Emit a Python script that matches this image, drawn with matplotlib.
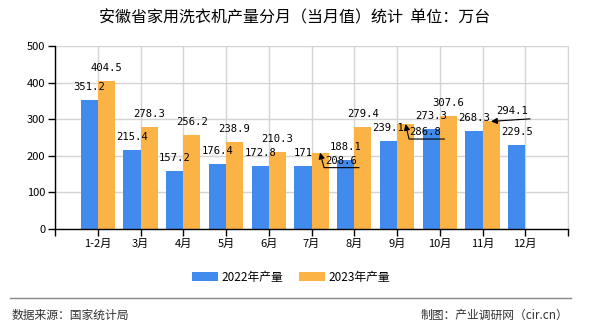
import matplotlib

matplotlib.use("Agg")
import matplotlib.pyplot as plt
import numpy as np

plt.rcParams["font.family"] = ["Noto Sans CJK SC", "DejaVu Sans"]

# data (unit: 万台)
months = ["1-2月", "3月", "4月", "5月", "6月", "7月", "8月", "9月", "10月", "11月", "12月"]
output_2022 = [351.2, 215.4, 157.2, 176.4, 172.8, 171.0, 188.1, 239.1, 273.3, 268.3, 229.5]
output_2023 = [404.5, 278.3, 256.2, 238.9, 210.3, 208.6, 279.4, 286.8, 307.6, 294.1, None]
labels_2022 = ["351.2", "215.4", "157.2", "176.4", "172.8", "171", "188.1", "239.1", "273.3", "268.3", "229.5"]
labels_2023 = ["404.5", "278.3", "256.2", "238.9", "210.3", "208.6", "279.4", "286.8", "307.6", "294.1", ""]

# 2023 labels pushed aside with a leader: text offset, underline left/right x, underline y (pixels)
moved_2023 = {
    5: ((21, -8), 4, 39, -15),
    7: ((20, -8), 3.5, 39, -15),
    9: ((21, 10), 0.5, 39, 2.5),
}

BLUE = "#418BEE"
ORANGE = "#FCB346"
W = 0.4

fig = plt.figure(figsize=(5.9, 3.3), dpi=100)
ax = fig.add_axes([55 / 590, (330 - 229) / 330, (568 - 55) / 590, (229 - 46) / 330])

x = np.arange(len(months))
vals_2023 = np.array([np.nan if v is None else v for v in output_2023])
bars_a = ax.bar(x - W / 2, output_2022, W, color=BLUE, label="2022年产量", zorder=2)
bars_b = ax.bar(x + W / 2, np.nan_to_num(vals_2023), W, color=ORANGE, label="2023年产量", zorder=2)

num_font = dict(family="DejaVu Sans Mono", fontsize=7.6, color="black")
for xi, v, lab in zip(x, output_2022, labels_2022):
    ax.annotate(lab, (xi - W / 2, v), xytext=(0, 13), textcoords="offset pixels",
                ha="center", va="center", zorder=4, **num_font)

for i, (xi, v, lab) in enumerate(zip(x, vals_2023, labels_2023)):
    if not lab:
        continue
    if i not in moved_2023:
        ax.annotate(lab, (xi + W / 2, v), xytext=(0, 13), textcoords="offset pixels",
                    ha="center", va="center", zorder=4, **num_font)
        continue
    (tx, ty), left, right, line_y = moved_2023[i]
    ax.annotate(lab, (xi + W / 2, v), xytext=(tx, ty), textcoords="offset pixels",
                ha="center", va="center", zorder=4, **num_font)
    if abs(line_y) > 5:
        angle_b = np.degrees(np.arctan2(line_y, left))
        cstyle = f"angle,angleA=0,angleB={angle_b:.1f},rad=0"
    else:
        cstyle = "arc3"
    ax.annotate("", (xi + W / 2, v), xytext=(right, line_y), textcoords="offset pixels",
                zorder=4,
                arrowprops=dict(arrowstyle="-|>", color="black", lw=0.8,
                                mutation_scale=9, shrinkA=0, shrinkB=0,
                                connectionstyle=cstyle))

ax.set_xlim(-1, 11)
ax.set_ylim(0, 500)
ax.set_xticks(np.arange(-1, 12))
ax.set_xticklabels([""] + months + [""], fontsize=8)
ax.set_yticks(np.arange(0, 501, 100))
ax.tick_params(axis="y", labelsize=8, length=5, width=1, pad=2)
ax.tick_params(axis="x", length=5, width=1, pad=2)
ax.grid(True, color="#d4d4d4", lw=1, zorder=0)
ax.set_axisbelow(True)
ax.spines["top"].set_visible(False)
ax.spines["right"].set_color("#d4d4d4")
ax.spines["left"].set_linewidth(1)
ax.spines["bottom"].set_linewidth(1)

fig.text(0.5, 1 - 18 / 330, "安徽省家用洗衣机产量分月（当月值）统计  单位：万台",
         ha="center", va="center", fontsize=11.5, color="black")

fig.legend(handles=[bars_a, bars_b], loc="center", bbox_to_anchor=(291 / 590, 1 - 277 / 330),
           ncol=2, frameon=False, fontsize=8.5, handlelength=2.2, handleheight=0.9,
           handletextpad=0.3, columnspacing=1.3)

fig.add_artist(plt.Line2D([10 / 590, 571 / 590], [1 - 298 / 330] * 2,
                          transform=fig.transFigure, color="#888888", lw=1))
fig.text(12 / 590, 1 - 315 / 330, "数据来源：国家统计局", ha="left", va="center",
         fontsize=8.5, color="#333333")
fig.text(568 / 590, 1 - 315 / 330, "制图：产业调研网（cir.cn）", ha="right", va="center",
         fontsize=8.5, color="#333333")

fig.savefig("out.png", dpi=100)
